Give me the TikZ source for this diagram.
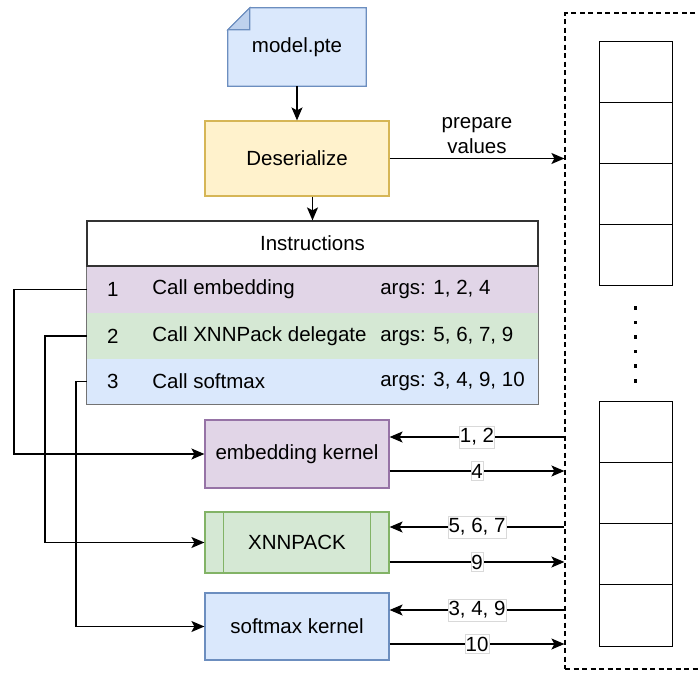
\documentclass[tikz,border=0pt]{standalone}
\usepackage{fontspec}
\setmainfont{Liberation Sans}
\usetikzlibrary{arrows.meta}
\usetikzlibrary{backgrounds}
\definecolor{bluefill}{HTML}{DAE8FC}
\definecolor{bluedraw}{HTML}{6C8EBF}
\definecolor{yellowfill}{HTML}{FFF2CC}
\definecolor{yellowdraw}{HTML}{D6B656}
\definecolor{purplefill}{HTML}{E1D5E7}
\definecolor{purpledraw}{HTML}{9673A6}
\definecolor{greenfill}{HTML}{D5E8D4}
\definecolor{greendraw}{HTML}{82B366}

\begin{document}
\begin{tikzpicture}[x=1pt, y=-1pt, font=\fontsize{20.5}{25}\selectfont,
    arr/.style={line width=1.4pt, -{Stealth[length=13pt,width=11pt,inset=3pt]}},
    kernel/.style={draw, line width=1.2pt, minimum width=184pt, inner sep=0pt},
    row/.style={minimum width=451pt, inner sep=0pt},
    lbl/.style={fill=white, draw=gray!30, line width=0.6pt, inner xsep=0.5pt, inner ysep=2.5pt},
    cell/.style={draw, line width=1pt}]
    \useasboundingbox (0,0) rectangle (698,672);
    % input file and loader
    \node [minimum width=138pt, minimum height=78pt] (pte) at (297, 47) {model.pte};
    \begin{scope}[on background layer]
        \filldraw [fill=bluefill, draw=bluedraw, line width=1.2pt] ([yshift=-22pt]pte.north west) -- ([xshift=22pt]pte.north west) -- (pte.north east) -- (pte.south east) -- (pte.south west) -- cycle;
        \filldraw [fill=bluefill!75!bluedraw, draw=bluedraw, line width=1.2pt] ([yshift=-22pt]pte.north west) -- ([xshift=22pt]pte.north west) -- ([xshift=22pt,yshift=-22pt]pte.north west) -- cycle;
    \end{scope}
    \node [kernel, fill=yellowfill, draw=yellowdraw, minimum height=75pt] (des) at (297, 158.5) {Deserialize};
    \draw [arr] (pte.south) to (des.north);
    % instruction table
    \node [row, draw=black!80, line width=1.2pt, fill=white, minimum height=45pt] (head) at (312.5, 243.5) {Instructions};
    \node [row, fill=purplefill, minimum height=47pt] (row1) at (312.5, 289.5) {};
    \node [row, fill=greenfill, minimum height=46pt] (row2) at (312.5, 336) {};
    \node [row, fill=bluefill, minimum height=45pt] (row3) at (312.5, 381.5) {};
    \draw [black!55, line width=1.2pt] (head.south west) rectangle (row3.south east);
    \draw [black!80, line width=1.2pt] (head.north west) rectangle (head.south east);
    \node (n1) at ([xshift=26pt]row1.west) {1};
    \node [anchor=west] (call1) at ([xshift=62pt]row1.west) {Call embedding};
    \node [anchor=west] (args1) at ([xshift=290pt]row1.west) {args: 1, 2, 4};
    \node (n2) at ([xshift=26pt]row2.west) {2};
    \node [anchor=west] (call2) at ([xshift=62pt]row2.west) {Call XNNPack delegate};
    \node [anchor=west] (args2) at ([xshift=290pt]row2.west) {args: 5, 6, 7, 9};
    \node (n3) at ([xshift=26pt]row3.west) {3};
    \node [anchor=west] (call3) at ([xshift=62pt]row3.west) {Call softmax};
    \node [anchor=west] (args3) at ([xshift=290pt]row3.west) {args: 3, 4, 9, 10};
    \draw [arr] (des.south -| head.north) to (head.north);
    % kernels
    \node [kernel, fill=purplefill, draw=purpledraw, minimum height=68pt] (emb) at (297, 454) {embedding kernel};
    \node [kernel, fill=greenfill, draw=greendraw, minimum height=61pt] (xnn) at (297, 542.5) {XNNPACK};
    \draw [greendraw, line width=1.2pt] ([xshift=19pt]xnn.north west) to ([xshift=19pt]xnn.south west);
    \draw [greendraw, line width=1.2pt] ([xshift=-19pt]xnn.north east) to ([xshift=-19pt]xnn.south east);
    \node [kernel, fill=bluefill, draw=bluedraw, minimum height=67pt] (soft) at (297, 626.5) {softmax kernel};
    \draw [arr] (row1.west) -- ++(-73,0) |- (emb.west);
    \draw [arr] (row2.west) -- ++(-42,0) |- (xnn.west);
    \draw [arr] (row3.west) -- ++(-11,0) |- (soft.west);
    % memory
    \node [draw, line width=1.2pt, dash pattern=on 5pt off 3.5pt, minimum width=145pt, minimum height=656pt] (mem) at (637.5, 341) {};
    \foreach \i in {0,...,3} {
        \draw [cell] (599, 41+61*\i) rectangle ++(73, 61);
        \draw [cell] (599, 401+61.25*\i) rectangle ++(73, 61.25);
    }
    \foreach \k in {0,...,5}
        \fill (633.5, 306+14.6*\k) rectangle ++(3.5, 3.5);
    \draw [arr] (des.east) -- node[above, align=center, inner sep=4pt] (prep) {prepare\\values} (des.east -| mem.west);
    \coordinate (e1) at ([yshift=17pt]emb.east);
    \coordinate (e2) at ([yshift=-17pt]emb.east);
    \coordinate (x1) at ([yshift=15.5pt]xnn.east);
    \coordinate (x2) at ([yshift=-19.5pt]xnn.east);
    \coordinate (s1) at ([yshift=16.5pt]soft.east);
    \coordinate (s2) at ([yshift=-17.5pt]soft.east);
    \draw [arr] (e1 -| mem.west) -- node[lbl] (l1) {1, 2} (e1);
    \draw [arr] (e2) -- node[lbl] (l2) {4} (e2 -| mem.west);
    \draw [arr] (x1 -| mem.west) -- node[lbl] (l3) {5, 6, 7} (x1);
    \draw [arr] (x2) -- node[lbl] (l4) {9} (x2 -| mem.west);
    \draw [arr] (s1 -| mem.west) -- node[lbl] (l5) {3, 4, 9} (s1);
    \draw [arr] (s2) -- node[lbl] (l6) {10} (s2 -| mem.west);
\end{tikzpicture}
\end{document}
